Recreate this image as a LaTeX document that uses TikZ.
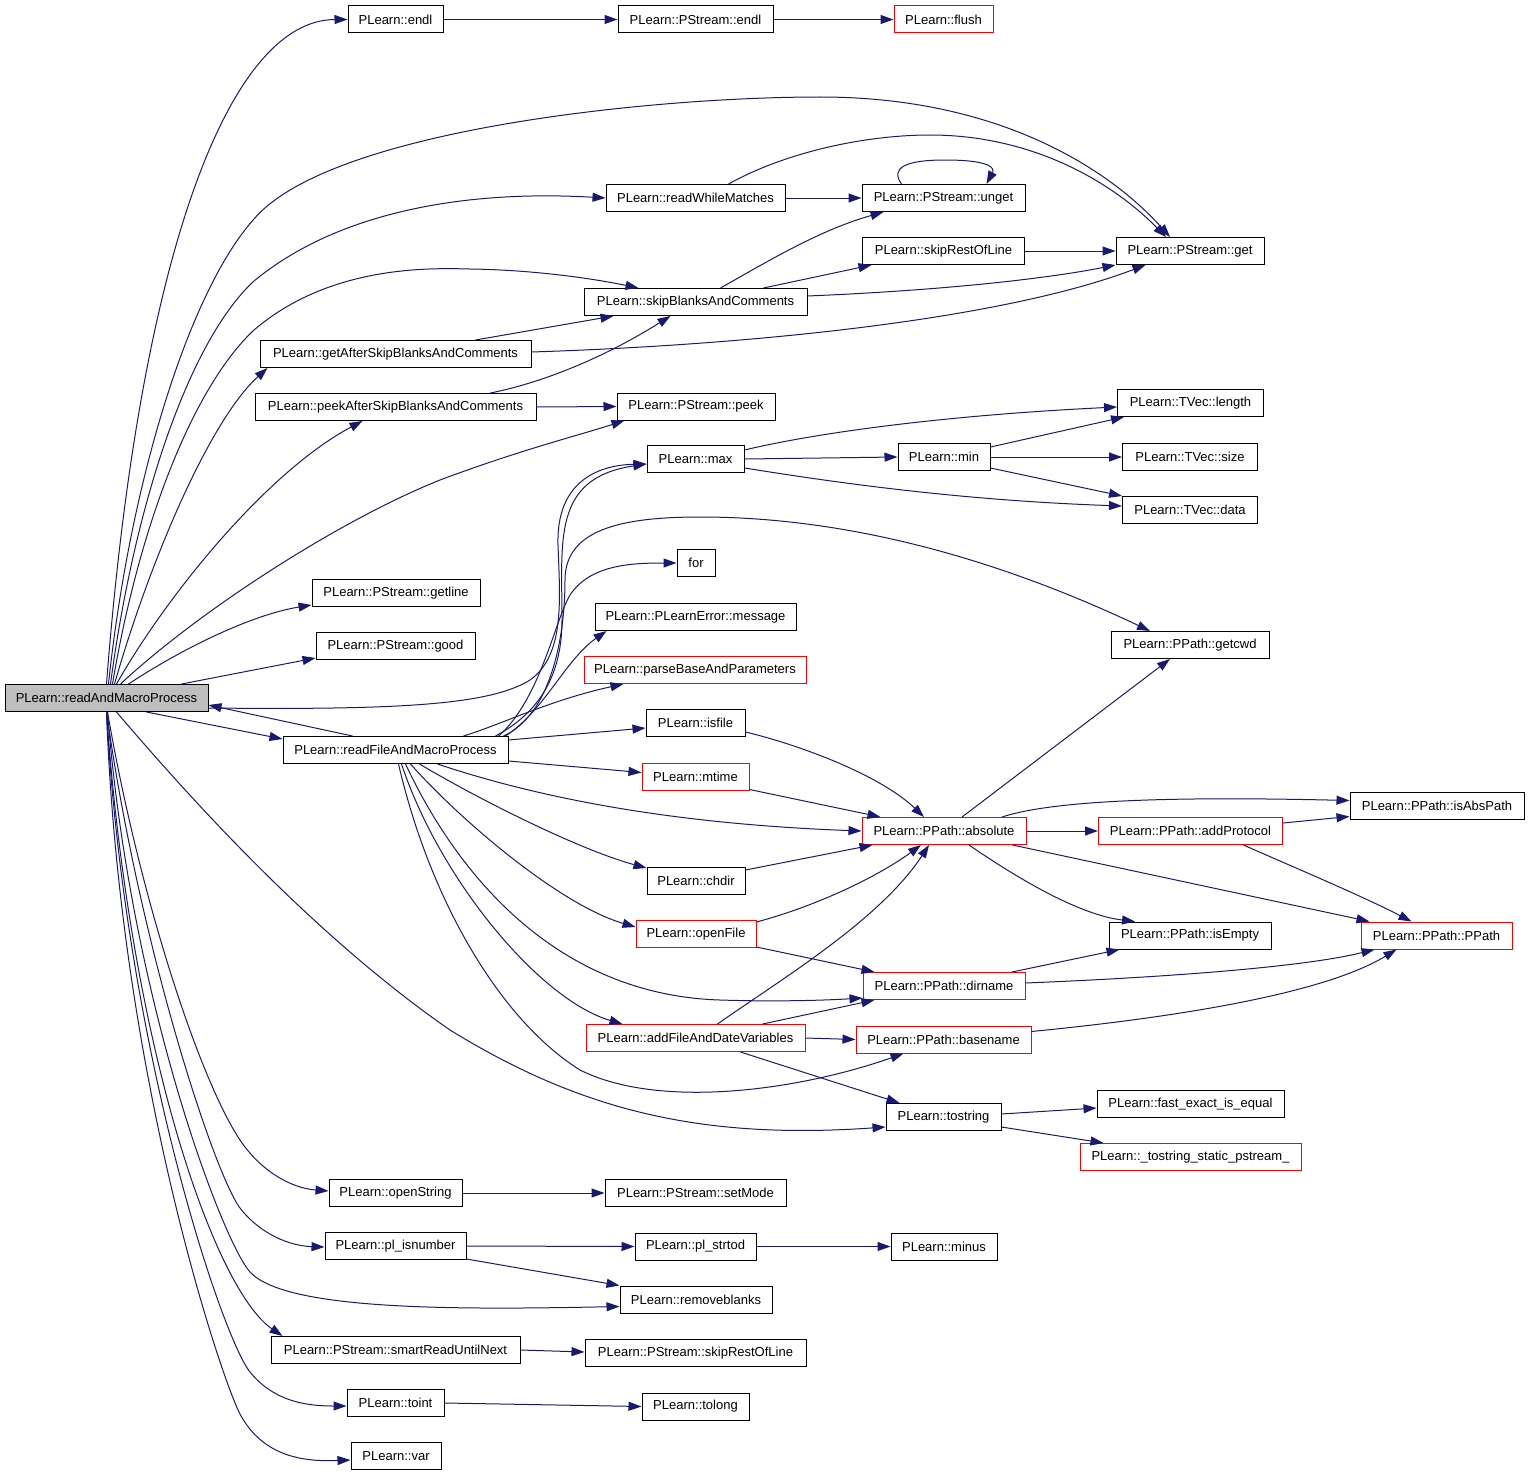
\documentclass[tikz,border=0pt]{standalone}
\usepackage{fontspec}
\setmainfont{Liberation Sans}
\usetikzlibrary{arrows.meta,calc}
\definecolor{edgeblue}{HTML}{191970}
\definecolor{rootgray}{HTML}{BFBFBF}
\begin{document}
\begin{tikzpicture}[x=1pt,y=-1pt,
  box/.style={draw=black, line width=1pt, minimum height=27pt, inner sep=0pt, fill=white,
    font=\fontsize{13}{15}\selectfont, minimum width=#1},
  redbox/.style={box=#1, draw=red},
  e/.style={draw=edgeblue, line width=1pt, -{Triangle[length=13pt,width=9pt]}}]
\useasboundingbox (0,0) rectangle (1531,1477);
% nodes
\node[box=203pt, fill=rootgray] (root) at (106.5,698) {PLearn::readAndMacroProcess};
\node[box=95pt] (endl) at (395.5,19.5) {PLearn::endl};
\node[box=155pt] (pendl) at (695.5,19.5) {PLearn::PStream::endl};
\node[redbox=99pt] (flush) at (943.5,19.5) {PLearn::flush};
\node[box=179pt] (rwm) at (695.5,198) {PLearn::readWhileMatches};
\node[box=163pt] (unget) at (943.5,198) {PLearn::PStream::unget};
\node[box=162pt] (srl) at (943.5,251) {PLearn::skipRestOfLine};
\node[box=148pt] (get) at (1190,251) {PLearn::PStream::get};
\node[box=223pt] (sbc) at (695.5,302) {PLearn::skipBlanksAndComments};
\node[box=271pt] (gas) at (395.5,354) {PLearn::getAfterSkipBlanksAndComments};
\node[box=281pt] (pas) at (395.5,407) {PLearn::peekAfterSkipBlanksAndComments};
\node[box=158pt] (peek) at (696,406.5) {PLearn::PStream::peek};
\node[box=146pt] (length) at (1190.5,403) {PLearn::TVec::length};
\node[box=97pt] (max) at (695.5,459) {PLearn::max};
\node[box=92pt] (min) at (944,457) {PLearn::min};
\node[box=135pt] (size) at (1190,457) {PLearn::TVec::size};
\node[box=135pt] (data) at (1190,510) {PLearn::TVec::data};
\node[box=38pt] (forn) at (696,563) {for};
\node[box=168pt] (getline) at (396,593) {PLearn::PStream::getline};
\node[box=159pt] (good) at (395.5,646) {PLearn::PStream::good};
\node[box=201pt] (msg) at (695.5,617) {PLearn::PLearnError::message};
\node[redbox=222pt] (pbp) at (695,670) {PLearn::parseBaseAndParameters};
\node[box=158pt] (getcwd) at (1190,645) {PLearn::PPath::getcwd};
\node[box=225pt] (rf) at (395.5,750) {PLearn::readFileAndMacroProcess};
\node[box=99pt] (isfile) at (695.5,723) {PLearn::isfile};
\node[redbox=107pt] (mtime) at (695.5,776.5) {PLearn::mtime};
\node[redbox=164pt] (abs) at (944,831) {PLearn::PPath::absolute};
\node[redbox=184pt] (addprot) at (1190.5,831) {PLearn::PPath::addProtocol};
\node[box=174pt] (isabs) at (1437,805.5) {PLearn::PPath::isAbsPath};
\node[box=98pt] (chdir) at (696,881) {PLearn::chdir};
\node[redbox=120pt] (openfile) at (696,934) {PLearn::openFile};
\node[box=162pt] (isempty) at (1190,935.5) {PLearn::PPath::isEmpty};
\node[redbox=151pt] (pp) at (1436.5,935.5) {PLearn::PPath::PPath};
\node[redbox=162pt] (dirname) at (944,986) {PLearn::PPath::dirname};
\node[redbox=219pt] (addfile) at (695.5,1038) {PLearn::addFileAndDateVariables};
\node[redbox=175pt] (basename) at (943.5,1039.5) {PLearn::PPath::basename};
\node[box=115pt] (tostring) at (943.5,1117) {PLearn::tostring};
\node[box=187pt] (fast) at (1190.5,1104) {PLearn::fast\_exact\_is\_equal};
\node[redbox=221pt] (tss) at (1190.5,1157) {PLearn::\_tostring\_static\_pstream\_};
\node[box=133pt] (openstring) at (395.5,1193) {PLearn::openString};
\node[box=181pt] (setmode) at (695.5,1193) {PLearn::PStream::setMode};
\node[box=141pt] (plisnum) at (395.5,1246) {PLearn::pl\_isnumber};
\node[box=121pt] (strtod) at (695.5,1246.5) {PLearn::pl\_strtod};
\node[box=106pt] (minus) at (944,1246.5) {PLearn::minus};
\node[box=152pt] (removeblanks) at (696,1299.5) {PLearn::removeblanks};
\node[box=249pt] (smart) at (395.5,1350) {PLearn::PStream::smartReadUntilNext};
\node[box=221pt] (psrl) at (695.5,1353) {PLearn::PStream::skipRestOfLine};
\node[box=97pt] (toint) at (395.5,1403) {PLearn::toint};
\node[box=107pt] (tolong) at (695.5,1406.5) {PLearn::tolong};
\node[box=90pt] (var) at (396,1456) {PLearn::var};
% edges from root (upwards)
\draw[e] (root.north) .. controls (140,250) and (230,20) .. (endl.west);
\draw[e] ($(root.north)+(2,0)$) .. controls (130,480) and (190,290) .. (254,219) .. controls (330,130) and (650,97) .. (820,97) .. controls (1000,97) and (1110,170) .. ($(get.north)+(-20,0)$);
\draw[e] ($(root.north)+(4,0)$) .. controls (135,500) and (190,340) .. (254,281) .. controls (340,210) and (470,190) .. (rwm.west);
\draw[e] ($(root.north)+(6,0)$) .. controls (140,520) and (195,385) .. (254,330) .. controls (330,265) and (430,268) .. (470,269) .. controls (540,270) and (600,280) .. ($(sbc.north)+(-57,0)$);
\draw[e] ($(root.north)+(8,0)$) .. controls (150,560) and (210,420) .. ($(gas.south west)+(8,0)$);
\draw[e] ($(root.north)+(10,0)$) .. controls (170,590) and (270,470) .. ($(pas.south)+(-33,0)$);
\draw[e] ($(root.north)+(14,0)$) .. controls (200,610) and (340,520) .. (440,480) .. controls (520,450) and (580,435) .. ($(peek.south west)+(8,0)$);
\draw[e] ($(root.north)+(22,0)$) .. controls (180,650) and (250,615) .. ($(getline.south west)+(0,-2)$);
\draw[e] ($(root.north)+(75,0)$) -- ($(good.south west)+(0,-2)$);
\draw[e] ($(root.east)+(0,10)$) .. controls (400,710) and (490,705) .. (530,680) .. controls (565,655) and (560,600) .. (558,545) .. controls (556,480) and (600,465) .. ($(max.west)+(0,5)$);
% root <-> rf
\draw[e] ($(root.south)+(40,0)$) -- ($(rf.west)+(0,-11)$);
\draw[e] ($(rf.north)+(-43,0)$) -- ($(root.east)+(0,7)$);
% root downwards
\draw[e] ($(root.south)+(10,0)$) .. controls (200,810) and (320,940) .. (450,1030) .. controls (580,1110) and (700,1140) .. ($(tostring.west)+(0,10)$);
\draw[e] ($(root.south)+(1,0)$) .. controls (140,900) and (200,1080) .. (240,1140) .. controls (260,1170) and (290,1188) .. ($(openstring.west)+(0,-2)$);
\draw[e] (root.south) .. controls (140,950) and (215,1175) .. (240,1208) .. controls (260,1234) and (290,1246) .. ($(plisnum.west)+(0,1)$);
\draw[e] ($(root.south)+(1,0)$) .. controls (130,1000) and (223,1242) .. (250,1272) .. controls (285,1310) and (450,1310) .. ($(removeblanks.west)+(0,7)$);
\draw[e] (root.south) .. controls (130,1050) and (215,1290) .. ($(smart.north west)+(12,0)$);
\draw[e] (root.south) .. controls (125,1050) and (222,1337) .. (250,1372) .. controls (275,1403) and (310,1406) .. ($(toint.west)+(0,3)$);
\draw[e] (root.south) .. controls (120,1080) and (222,1380) .. (240,1414) .. controls (262,1455) and (300,1462) .. ($(var.west)+(0,4)$);
% top chain
\draw[e] (endl.east) -- (pendl.west);
\draw[e] (pendl.east) -- (flush.west);
\draw[e] (rwm.east) -- (unget.west);
\draw[e] ($(rwm.north)+(33,0)$) .. controls (790,150) and (870,135) .. (930,135) .. controls (1030,135) and (1110,180) .. ($(get.north)+(-24,0)$);
\draw[e] ($(unget.north)+(-42,0)$) .. controls (890,168) and (905,160) .. (945,160) .. controls (990,160) and (995,168) .. ($(unget.north)+(43,0)$);
\draw[e] ($(sbc.north)+(25,0)$) .. controls (770,260) and (820,230) .. ($(unget.south)+(-60,0)$);
\draw[e] ($(sbc.north)+(68,0)$) -- ($(srl.south)+(-72,0)$);
\draw[e] ($(sbc.east)+(0,-6)$) .. controls (950,290) and (1050,278) .. (get.south west);
\draw[e] (srl.east) -- (get.west);
\draw[e] ($(gas.east)+(0,-2)$) .. controls (750,345) and (1000,320) .. ($(get.south west)+(30,0)$);
\draw[e] ($(gas.north)+(80,0)$) -- ($(sbc.south west)+(30,0)$);
\draw[e] ($(pas.north)+(95,0)$) .. controls (540,383) and (600,360) .. ($(sbc.south)+(-25,0)$);
\draw[e] (pas.east) -- (peek.west);
% max / min
\draw[e] ($(max.east)+(0,-9)$) .. controls (820,432) and (950,415) .. ($(length.west)+(0,4)$);
\draw[e] (max.east) -- (min.west);
\draw[e] ($(max.east)+(0,9)$) .. controls (820,480) and (950,500) .. ($(data.west)+(0,-4)$);
\draw[e] ($(min.east)+(0,-10)$) -- ($(length.south west)+(7,0)$);
\draw[e] (min.east) -- (size.west);
\draw[e] ($(min.east)+(0,11)$) -- (data.north west);
% rf outgoing
\draw[e] ($(rf.north)+(100,0)$) .. controls (535,715) and (562,680) .. (562,620) .. controls (562,540) and (552,478) .. ($(max.west)+(0,5)$);
\draw[e] ($(rf.north)+(108,0)$) .. controls (550,715) and (565,640) .. (565,580) .. controls (565,530) and (620,517) .. (700,517) .. controls (850,517) and (1000,560) .. ($(getcwd.north)+(-40,0)$);
\draw[e] ($(rf.north)+(103,0)$) .. controls (540,700) and (555,620) .. (570,595) .. controls (590,565) and (630,563) .. (forn.west);
\draw[e] ($(rf.north)+(110,0)$) .. controls (545,710) and (565,660) .. ($(msg.south west)+(12,0)$);
\draw[e] ($(rf.north)+(68,0)$) .. controls (500,725) and (550,700) .. ($(pbp.south west)+(40,0)$);
\draw[e] ($(rf.east)+(0,-10)$) -- ($(isfile.west)+(0,5)$);
\draw[e] ($(rf.east)+(0,11)$) -- ($(mtime.west)+(0,-4)$);
\draw[e] ($(rf.south)+(42,0)$) .. controls (560,805) and (700,825) .. (abs.west);
\draw[e] ($(rf.south)+(24,0)$) .. controls (480,800) and (580,850) .. ($(chdir.west)+(0,-13)$);
\draw[e] ($(rf.south)+(15,0)$) .. controls (460,820) and (560,905) .. ($(openfile.west)+(0,-7)$);
\draw[e] ($(rf.south)+(10,0)$) .. controls (460,880) and (560,995) .. (720,1000) .. controls (780,1002) and (830,1000) .. ($(dirname.west)+(0,12)$);
\draw[e] ($(rf.south)+(6,0)$) .. controls (440,880) and (540,1000) .. ($(addfile.north west)+(37,0)$);
\draw[e] ($(rf.south)+(3,0)$) .. controls (430,900) and (500,1020) .. (580,1070) .. controls (660,1110) and (800,1090) .. ($(basename.south west)+(48,0)$);
% into absolute
\draw[e] ($(isfile.east)+(0,9)$) .. controls (800,745) and (880,775) .. ($(abs.north)+(-20,0)$);
\draw[e] ($(mtime.east)+(0,13)$) -- ($(abs.north west)+(19,0)$);
\draw[e] ($(chdir.east)+(0,-11)$) -- ($(abs.south west)+(11,0)$);
\draw[e] ($(openfile.east)+(0,-12)$) .. controls (820,905) and (880,875) .. ($(abs.south)+(-23,0)$);
\draw[e] ($(addfile.north)+(22,0)$) .. controls (780,980) and (880,920) .. ($(abs.south)+(-15,0)$);
\draw[e] ($(openfile.east)+(0,13)$) -- ($(dirname.north west)+(12,0)$);
\draw[e] ($(addfile.north)+(67,0)$) -- ($(dirname.south west)+(12,0)$);
\draw[e] (addfile.east) -- (basename.west);
\draw[e] ($(addfile.south)+(45,0)$) -- ($(tostring.north west)+(14,0)$);
% absolute outgoing
\draw[e] ($(abs.north)+(18,0)$) -- ($(getcwd.south)+(-20,0)$);
\draw[e] ($(abs.north)+(58,0)$) .. controls (1060,798) and (1200,797) .. ($(isabs.west)+(0,-5)$);
\draw[e] (abs.east) -- (addprot.west);
\draw[e] ($(addprot.east)+(0,-8)$) -- ($(isabs.west)+(0,11)$);
\draw[e] ($(addprot.south)+(53,0)$) .. controls (1300,870) and (1360,895) .. ($(pp.north)+(-25,0)$);
\draw[e] ($(abs.south)+(25,0)$) .. controls (1020,880) and (1080,915) .. ($(isempty.north)+(-55,0)$);
\draw[e] ($(abs.south east)+(-14,0)$) -- ($(pp.north west)+(9,0)$);
\draw[e] ($(dirname.north)+(68,0)$) -- ($(isempty.south west)+(11,0)$);
\draw[e] ($(dirname.east)+(0,-3)$) .. controls (1150,978) and (1300,968) .. ($(pp.south west)+(14,0)$);
\draw[e] ($(basename.east)+(0,-8)$) .. controls (1200,1015) and (1330,990) .. ($(pp.south)+(-40,0)$);
% tostring
\draw[e] ($(tostring.east)+(0,-3)$) -- ($(fast.west)+(0,4)$);
\draw[e] ($(tostring.east)+(0,10)$) -- ($(tss.north west)+(24,0)$);
% bottom chain
\draw[e] (openstring.east) -- (setmode.west);
\draw[e] (plisnum.east) -- (strtod.west);
\draw[e] ($(plisnum.east)+(0,13)$) -- (removeblanks.north west);
\draw[e] (strtod.east) -- (minus.west);
\draw[e] (smart.east) -- ($(psrl.west)+(0,-1)$);
\draw[e] (toint.east) -- (tolong.west);
\end{tikzpicture}
\end{document}
